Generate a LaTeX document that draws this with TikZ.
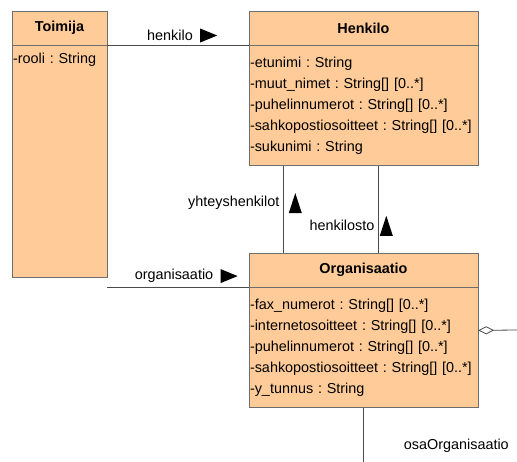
\documentclass[tikz,border=0pt]{standalone}
\usepackage{fontspec}
\setmainfont{Liberation Sans}
\frenchspacing
\usetikzlibrary{positioning,arrows.meta}
\definecolor{classfill}{HTML}{FFCC99}
\definecolor{classline}{HTML}{6E6E6E}
\definecolor{assocline}{HTML}{4A4A4A}
\newcommand{\umlfont}{\fontsize{14.4}{21}\selectfont}
\tikzstyle{classhead}=[draw=classline,fill=classfill,font=\umlfont\bfseries,minimum height=34pt,inner sep=0pt]
\tikzstyle{classbody}=[draw=classline,fill=classfill,align=left,inner xsep=1pt,inner ysep=8pt]
\tikzstyle{assoc}=[draw=assocline,line width=0.8pt]
\tikzstyle{role}=[inner sep=4pt]
\newcommand{\navRight}[1]{\fill (#1) ++(3,-7) -- ++(17,7) -- ++(-17,7) -- cycle;}
\newcommand{\navUp}[2]{\fill (#1) ++(#2,10) -- ++(6.5,-20) -- ++(6.5,20) -- cycle;}
\begin{document}
\begin{tikzpicture}[x=1pt,y=-1pt,font=\umlfont]
  \useasboundingbox (0,0) rectangle (517,462);

  \node[classhead,minimum width=95pt] (toimija) at (59.5,28) {Toimija};
  \node[classbody,below=0pt of toimija,text width=93pt,text depth=205pt] (toimija-attr)
    {-rooli : String};

  \node[classhead,minimum width=229pt] (henkilo) at (363.5,28) {Henkilo};
  \node[classbody,below=0pt of henkilo,text width=227pt,minimum height=120pt] (henkilo-attr)
    {-etunimi : String\\
     -muut\_nimet : String[] [0..*]\\
     -puhelinnumerot : String[] [0..*]\\
     -sahkopostiosoitteet : String[] [0..*]\\
     -sukunimi : String};

  \node[classhead,minimum width=229pt] (organisaatio) at (363.5,270) {Organisaatio};
  \node[classbody,below=0pt of organisaatio,text width=227pt,minimum height=120pt] (organisaatio-attr)
    {-fax\_numerot : String[] [0..*]\\
     -internetosoitteet : String[] [0..*]\\
     -puhelinnumerot : String[] [0..*]\\
     -sahkopostiosoitteet : String[] [0..*]\\
     -y\_tunnus : String};

  \coordinate (osaRight) at (517,330);
  \coordinate (osaBottom) at (363.5,462);

  \path[assoc]
    (toimija.south east) edge node[role,above,xshift=-8pt] (rolHenkilo) {henkilo} (henkilo.south west)
    (toimija-attr.east |- organisaatio.south) edge node[role,above,xshift=-4pt] (rolOrganisaatio) {organisaatio} (organisaatio.south west)
    ([xshift=35pt]henkilo-attr.south west) edge node[role,left,pos=0.43] (rolYhteys) {yhteyshenkilot} ([xshift=35pt]organisaatio.north west)
    ([xshift=130pt]henkilo-attr.south west) edge node[role,left,pos=0.69] (rolHenkilosto) {henkilosto} ([xshift=130pt]organisaatio.north west)
    (organisaatio-attr.south) edge node[role,right,pos=0.71,xshift=36pt] (rolOsa) {osaOrganisaatio} (osaBottom);
  \draw[assoc,{Diamond[open,length=16pt,width=8pt]}-] ([yshift=17pt]organisaatio-attr.east) -- (osaRight);

  \navRight{rolHenkilo.east}
  \navRight{rolOrganisaatio.east}
  \navUp{rolYhteys.east}{5}
  \navUp{rolHenkilosto.east}{1}
\end{tikzpicture}
\end{document}
